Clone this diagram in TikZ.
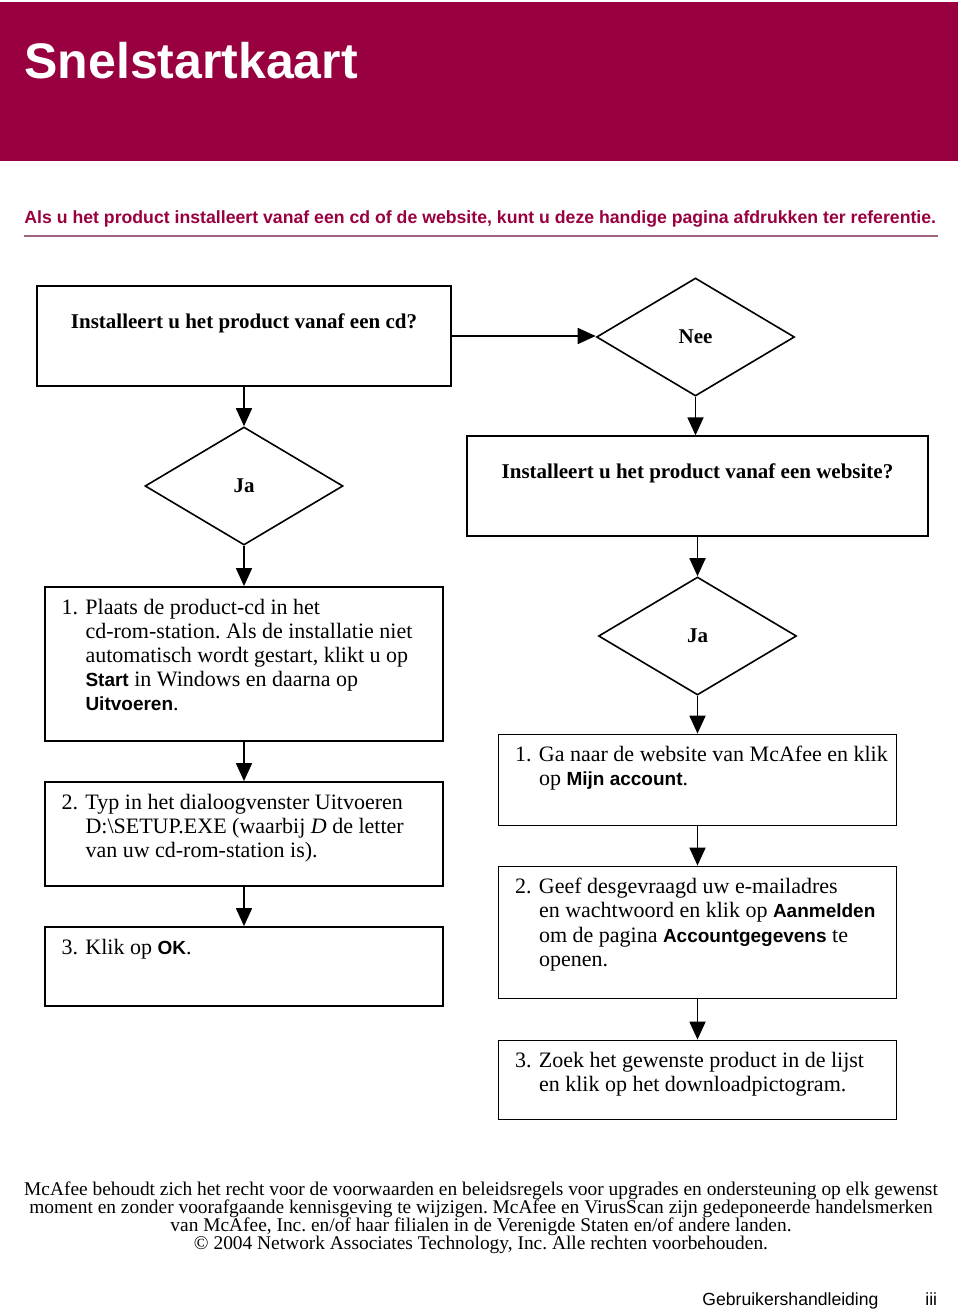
\documentclass[tikz,border=0pt]{standalone}
\usepackage{fontspec}
\setmainfont{Liberation Serif}
\setsansfont{Liberation Sans}
\usepackage{xcolor}
\usetikzlibrary{shapes.geometric,arrows.meta,positioning}
\definecolor{mcred}{HTML}{990040}
\definecolor{mcrule}{HTML}{A3637F}
\newcommand{\uiword}[1]{{\sffamily\bfseries\fontsize{9.5}{12.1}\selectfont #1}}
\frenchspacing

\begin{document}
\begin{tikzpicture}[x=0.5pt, y=-0.5pt, node distance=75pt,
        qbox/.style={draw, line width=0.9pt, minimum height=49.75pt, inner sep=0pt},
        decision/.style={draw, diamond, line width=0.8pt, minimum width=99pt, minimum height=59pt, inner sep=0pt, font=\bfseries\fontsize{10.5}{12}\selectfont},
        stepbox/.style={draw, line width=0.9pt, minimum width=199pt, inner sep=0pt},
        qtext/.style={inner sep=0pt, font=\bfseries\fontsize{10.5}{12}\selectfont},
        steptext/.style={anchor=base west, inner sep=0pt, font=\fontsize{11}{12.1}\selectfont},
        flow/.style={-{Triangle[length=9pt,width=8pt]}, line width=0.9pt}]
        \useasboundingbox (0,0) rectangle (960,1312);

        % Header
        \fill[mcred] (0,2) rectangle (958,161);
        \node [anchor=base west, inner sep=0pt, text=white, font=\sffamily\bfseries\fontsize{25}{30}\selectfont] (title) at (24,78) {Snelstartkaart};
        \node [anchor=base west, inner sep=0pt, text=mcred, font=\sffamily\bfseries\fontsize{8.84}{10}\selectfont] (intro) at (24,223) {Als u het product installeert vanaf een cd of de website, kunt u deze handige pagina afdrukken ter referentie.};
        \draw[mcrule, line width=1pt] (24,236) -- (938,236);

        % Question cd
        \node [qbox, minimum width=207pt] (qcd) at (244,336) {};
        \node [qtext] (qcdtext) at ([yshift=6.5pt]qcd.center) {Installeert u het product vanaf een cd?};

        % Nee
        \node [decision, right of=qcd, node distance=225.75pt, yshift=-0.5pt] (nee) {Nee};

        % Question website
        \node [qbox, minimum width=230.5pt, below of=nee, node distance=74.5pt, xshift=1pt] (qweb) {};
        \node [qtext] (qwebtext) at ([yshift=6.5pt]qweb.center) {Installeert u het product vanaf een website?};

        % Ja (cd)
        \node [decision, below of=qcd] (jacd) {Ja};

        % Steps cd
        \node [stepbox, minimum height=77pt, below of=jacd, node distance=89pt] (cd1) {};
        \node [steptext] (cd1text) at ([xshift=8.5pt,yshift=-14pt]cd1.north west) {\begin{tabular}[t]{@{}p{12pt}@{}l@{}}
            1. & Plaats de product-cd in het\\
               & cd-rom-station. Als de installatie niet\\
               & automatisch wordt gestart, klikt u op\\
               & \uiword{Start} in Windows en daarna op\\
               & \uiword{Uitvoeren}.
            \end{tabular}};

        \node [stepbox, minimum height=52pt, below of=cd1, node distance=85pt] (cd2) {};
        \node [steptext] (cd2text) at ([xshift=8.5pt,yshift=-14pt]cd2.north west) {\begin{tabular}[t]{@{}p{12pt}@{}l@{}}
            2. & Typ in het dialoogvenster Uitvoeren\\
               & D:\textbackslash SETUP.EXE (waarbij \textit{D} de letter\\
               & van uw cd-rom-station is).
            \end{tabular}};

        \node [stepbox, minimum height=39.5pt, below of=cd2, node distance=66.25pt] (cd3) {};
        \node [steptext] (cd3text) at ([xshift=8.5pt,yshift=-14pt]cd3.north west) {\begin{tabular}[t]{@{}p{12pt}@{}l@{}}
            3. & Klik op \uiword{OK}.
            \end{tabular}};

        % Ja (website)
        \node [decision, below of=qweb] (jaweb) {Ja};

        % Steps website
        \node [stepbox, minimum height=45.5pt, below of=jaweb, node distance=72pt] (web1) {};
        \node [steptext] (web1text) at ([xshift=8.5pt,yshift=-14pt]web1.north west) {\begin{tabular}[t]{@{}p{12pt}@{}l@{}}
            1. & Ga naar de website van McAfee en klik\\
               & op \uiword{Mijn account}.
            \end{tabular}};

        \node [stepbox, minimum height=66pt, below of=web1, node distance=76.25pt] (web2) {};
        \node [steptext] (web2text) at ([xshift=8.5pt,yshift=-14pt]web2.north west) {\begin{tabular}[t]{@{}p{12pt}@{}l@{}}
            2. & Geef desgevraagd uw e-mailadres\\
               & en wachtwoord en klik op \uiword{Aanmelden}\\
               & om de pagina \uiword{Accountgegevens} te\\
               & openen.
            \end{tabular}};

        \node [stepbox, minimum height=39.5pt, below of=web2, node distance=73.75pt] (web3) {};
        \node [steptext] (web3text) at ([xshift=8.5pt,yshift=-14pt]web3.north west) {\begin{tabular}[t]{@{}p{12pt}@{}l@{}}
            3. & Zoek het gewenste product in de lijst\\
               & en klik op het downloadpictogram.
            \end{tabular}};

        % Arrows
        \draw[flow] (qcd.east) -- (qcd.east -| nee.west);
        \draw[flow] (qcd) -- (jacd);
        \draw[flow] (jacd) -- (cd1);
        \draw[flow] (cd1) -- (cd2);
        \draw[flow] (cd2) -- (cd3);
        \draw[flow] (nee.south) -- (nee.south |- qweb.north);
        \draw[flow] (qweb) -- (jaweb);
        \draw[flow] (jaweb) -- (web1);
        \draw[flow] (web1) -- (web2);
        \draw[flow] (web2) -- (web3);

        % Footer
        \node [anchor=north, align=center, inner sep=0pt, font=\fontsize{9.7}{9}\selectfont] (legal) at (481,1181) {McAfee behoudt zich het recht voor de voorwaarden en beleidsregels voor upgrades en ondersteuning op elk gewenst\\
            moment en zonder voorafgaande kennisgeving te wijzigen. McAfee en VirusScan zijn gedeponeerde handelsmerken\\
            van McAfee, Inc. en/of haar filialen in de Verenigde Staten en/of andere landen.\\
            © 2004 Network Associates Technology, Inc. Alle rechten voorbehouden.};
        \node [anchor=base west, inner sep=0pt, font=\sffamily\fontsize{8.8}{10}\selectfont] (guide) at (702,1305) {Gebruikershandleiding};
        \node [anchor=base west, inner sep=0pt, font=\sffamily\fontsize{8.8}{10}\selectfont] (pagenr) at (925,1305) {iii};
    \end{tikzpicture}
\end{document}
